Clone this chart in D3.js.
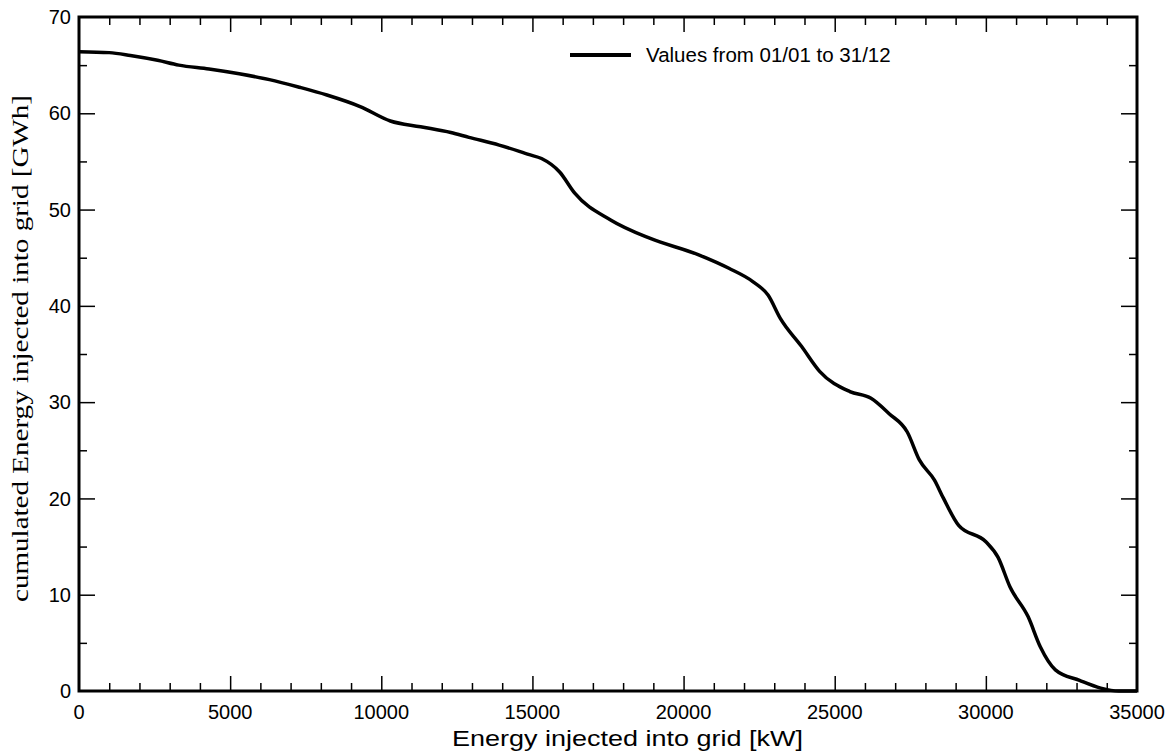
<!DOCTYPE html>
<html>
<head>
<meta charset="utf-8">
<script src="https://cdn.jsdelivr.net/npm/d3@7"></script>
<style>
  body { margin: 0; background: #fff; }
  text { fill: #000; }
</style>
</head>
<body>
<div id="chart"></div>
<script>
// energy injected into grid [kW] (x) vs cumulated energy [GWh] (y)
const powerKW = [0, 1000, 1700, 2600, 3300, 4300, 5300, 6300, 7300, 8200, 9300, 10300, 11300, 12300, 12900,
  13900, 14900, 15300, 15900, 16400, 17600, 18900, 20500, 21500, 22300, 22800, 23200, 23900, 24500, 25500,
  26200, 26800, 27400, 27800, 28300, 28600, 29100, 30000, 30400, 30800, 31400, 31800, 32300, 33100, 33800,
  34400, 35000];
const cumulGWh = [66.4, 66.3, 66.0, 65.5, 65.0, 64.6, 64.1, 63.5, 62.7, 61.9, 60.7, 59.2, 58.6, 58.0, 57.5,
  56.7, 55.7, 55.3, 53.9, 51.7, 48.9, 47.0, 45.3, 43.9, 42.5, 41.1, 38.7, 35.8, 33.2, 31.1,
  30.4, 28.8, 26.9, 24.0, 21.9, 20.0, 17.2, 15.5, 13.9, 10.8, 7.7, 4.6, 2.2, 1.1, 0.3,
  0.0, 0.0];
const xTicks = [0, 5000, 10000, 15000, 20000, 25000, 30000, 35000];
const yTicks = [0, 10, 20, 30, 40, 50, 60, 70];
const seriesName = "Values from 01/01 to 31/12";

const W = 1176, H = 754;
const margin = { top: 17, right: 39, bottom: 63, left: 79 };
const width = W - margin.left - margin.right,
  height = H - margin.top - margin.bottom;

const svg = d3.select("#chart").append("svg")
  .attr("width", W)
  .attr("height", H);
const g = svg.append("g")
  .attr("transform", "translate(" + margin.left + "," + margin.top + ")");

const x = d3.scaleLinear().domain([0, 35000]).range([0, width]);
const y = d3.scaleLinear().domain([0, 70]).range([height, 0]);

const data = powerKW.map((p, i) => ({ p: p, e: cumulGWh[i] }));

// minor ticks
const xMinor = d3.range(0, 35001, 1000).filter(v => v % 5000 !== 0);
const yMinor = d3.range(5, 70, 10);

function tickStyle(sel) {
  sel.select(".domain").remove();
  sel.selectAll("line").attr("stroke", "#000").attr("stroke-width", 1.5);
  sel.selectAll("text").remove();
}

// bottom & top (inner ticks)
g.append("g").attr("transform", "translate(0," + height + ")")
  .call(d3.axisTop(x).tickValues(xTicks.slice(1, -1)).tickSize(15)).call(tickStyle);
g.append("g").attr("transform", "translate(0," + height + ")")
  .call(d3.axisTop(x).tickValues(xMinor).tickSize(8)).call(tickStyle);
g.append("g")
  .call(d3.axisBottom(x).tickValues(xTicks.slice(1, -1)).tickSize(15)).call(tickStyle);
g.append("g")
  .call(d3.axisBottom(x).tickValues(xMinor).tickSize(8)).call(tickStyle);

// left & right (inner ticks)
g.append("g")
  .call(d3.axisRight(y).tickValues(yTicks.slice(1, -1)).tickSize(16)).call(tickStyle);
g.append("g")
  .call(d3.axisRight(y).tickValues(yMinor).tickSize(8)).call(tickStyle);
g.append("g").attr("transform", "translate(" + width + ",0)")
  .call(d3.axisLeft(y).tickValues(yTicks.slice(1, -1)).tickSize(16)).call(tickStyle);
g.append("g").attr("transform", "translate(" + width + ",0)")
  .call(d3.axisLeft(y).tickValues(yMinor).tickSize(8)).call(tickStyle);

// tick labels
g.selectAll(".xlab").data(xTicks).enter().append("text")
  .attr("x", d => x(d))
  .attr("y", height + 28)
  .attr("text-anchor", "middle")
  .style("font", "20px 'Liberation Sans', Arial, sans-serif")
  .text(d => d);
g.selectAll(".ylab").data(yTicks).enter().append("text")
  .attr("x", -8)
  .attr("y", d => y(d))
  .attr("dy", "0.36em")
  .attr("text-anchor", "end")
  .style("font", "20px 'Liberation Sans', Arial, sans-serif")
  .text(d => d);

// curve
const line = d3.line()
  .x(d => x(d.p))
  .y(d => y(d.e))
  .curve(d3.curveMonotoneX);
g.append("path")
  .datum(data)
  .attr("fill", "none")
  .attr("stroke", "#000")
  .attr("stroke-width", 3.5)
  .attr("stroke-linejoin", "round")
  .attr("d", line);

// frame
g.append("rect")
  .attr("width", width)
  .attr("height", height)
  .attr("fill", "none")
  .attr("stroke", "#000")
  .attr("stroke-width", 3);

// legend
const lg = g.append("g").attr("transform", "translate(491,38)");
lg.append("line")
  .attr("x1", 0).attr("x2", 61)
  .attr("stroke", "#000").attr("stroke-width", 4);
lg.append("text")
  .attr("x", 76)
  .attr("dy", "0.36em")
  .style("font", "20.5px 'Liberation Sans', Arial, sans-serif")
  .text(seriesName);

// axis titles
svg.append("text")
  .attr("x", 452)
  .attr("y", 746)
  .attr("textLength", 351)
  .attr("lengthAdjust", "spacingAndGlyphs")
  .style("font", "22px 'Liberation Sans', Arial, sans-serif")
  .text("Energy injected into grid [kW]");
svg.append("text")
  .attr("transform", "translate(28,602) rotate(-90)")
  .attr("textLength", 507)
  .attr("lengthAdjust", "spacingAndGlyphs")
  .style("font", "24px 'Liberation Serif', 'Times New Roman', serif")
  .text("cumulated Energy injected into grid [GWh]");
</script>
</body>
</html>
